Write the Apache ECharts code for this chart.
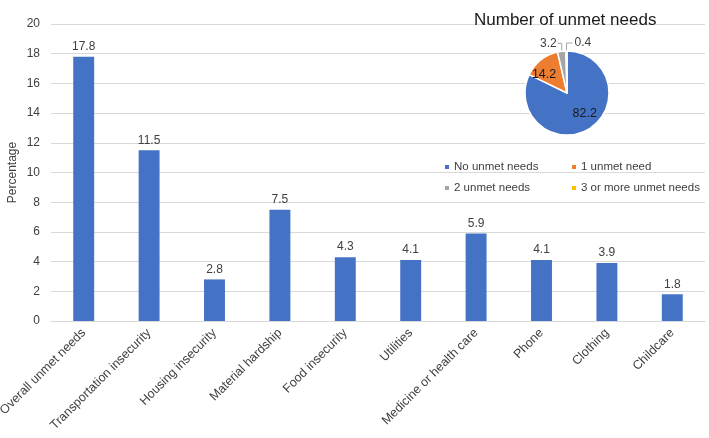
<!DOCTYPE html>
<html><head><meta charset="utf-8">
<script src="https://cdn.jsdelivr.net/npm/echarts@6/dist/echarts.min.js"></script>
<style>html,body{margin:0;padding:0;background:#fff}#c{width:709px;height:438px}</style>
</head><body><div id="c"></div>
<script>
const categories = ["Overall unmet needs","Transportation insecurity","Housing insecurity","Material hardship","Food insecurity","Utilities","Medicine or health care","Phone","Clothing","Childcare"];
const percentages = [17.8,11.5,2.8,7.5,4.3,4.1,5.9,4.1,3.9,1.8];
const pieNames = ["No unmet needs","1 unmet need","2 unmet needs","3 or more unmet needs"];
const pieValues = [82.2,14.2,3.2,0.4];
const pieColors = ["#4472C4","#ED7D31","#A5A5A5","#FFC000"];
const yTicks = [0,2,4,6,8,10,12,14,16,18,20];

const FONT = "Liberation Sans";
const legendPos = [[443,161],[570,161],[443,182],[570,182]];
const chart = echarts.init(document.getElementById('c'));
chart.setOption({
  animation:false,
  textStyle:{fontFamily:FONT},
  title:{text:"Number of unmet needs",left:469,top:7,
    textStyle:{fontFamily:FONT,fontSize:17,fontWeight:'normal',color:'#1a1a1a'}},
  legend:pieNames.map((n,i)=>({data:[n],left:legendPos[i][0],top:legendPos[i][1],
    itemWidth:6,itemHeight:6,icon:'rect',padding:0,
    textStyle:{fontFamily:FONT,fontSize:11.5,color:'#404040',padding:[0,0,0,-1]}})),
  grid:{left:51,right:4,top:24,bottom:117,containLabel:false,outerBoundsMode:'none'},
  xAxis:{type:'category',data:categories,
    axisLine:{lineStyle:{color:'#d9d9d9'}},axisTick:{show:false},
    axisLabel:{rotate:45,interval:0,fontSize:12.5,color:'#404040',fontFamily:FONT,margin:10}},
  yAxis:{type:'value',min:yTicks[0],max:yTicks[yTicks.length-1],interval:2,
    name:'Percentage',nameLocation:'middle',nameGap:32,nameRotate:90,nameMoveOverlap:false,
    nameTextStyle:{fontSize:12,color:'#404040',fontFamily:FONT},
    axisLine:{show:false},axisTick:{show:false},
    axisLabel:{fontSize:12,color:'#404040',fontFamily:FONT,margin:11},
    splitLine:{lineStyle:{color:'#d9d9d9'}}},
  series:[
    {type:'bar',data:percentages,barWidth:'32%',itemStyle:{color:'#4472C4'},
     label:{show:true,position:'top',fontSize:12,color:'#404040',fontFamily:FONT,distance:4}},
    {type:'pie',center:[567,93],radius:[0,42],startAngle:90,clockwise:true,
     itemStyle:{borderColor:'#fff',borderWidth:1.5},
     label:{fontFamily:FONT,fontSize:12,color:'#1a1a1a'},
     labelLine:{length:6,length2:5,lineStyle:{color:'#a6a6a6'}},
     labelLayout:function(p){
       if(p.dataIndex===0) return {dx:5,dy:0};
       if(p.dataIndex===1) return {dx:-8,dy:0};
       if(p.labelLinePoints){
         const a=p.labelLinePoints[0];
         const ly=a[1]-8;
         if(p.dataIndex===2){
           return {x:a[0]-5,y:ly,align:'right',verticalAlign:'middle',
             labelLinePoints:[[a[0],a[1]],[a[0],ly],[a[0]-4,ly]]};
         } else {
           return {x:a[0]+8,y:ly,align:'left',verticalAlign:'middle',
             labelLinePoints:[[a[0],a[1]],[a[0],ly],[a[0]+6,ly]]};
         }
       }
       return {};
     },
     data:pieNames.map((n,i)=>{
       const d={name:n,value:pieValues[i],itemStyle:{color:pieColors[i]}};
       if(i<2){d.label={position:'inside',formatter:'{c}',fontSize:12.5,color:'#1a1a1a'};d.labelLine={show:false};}
       else{d.label={position:'outside',formatter:'{c}',fontSize:12,color:'#404040'};}
       return d;
     })}
  ]
});
</script></body></html>
